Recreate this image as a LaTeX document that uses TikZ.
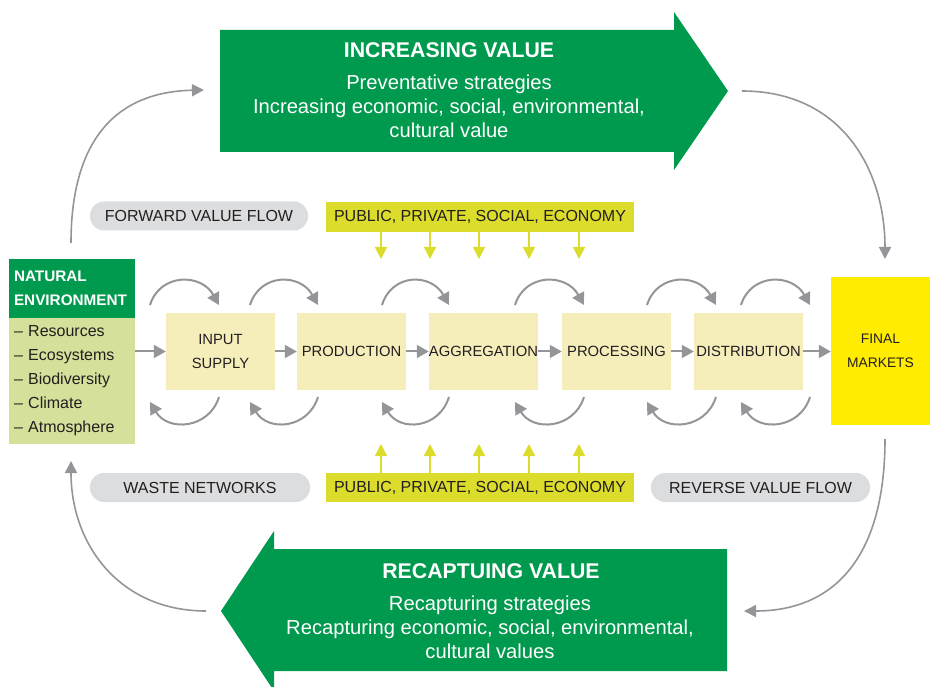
\documentclass[tikz,border=0pt]{standalone}
\usepackage{fontspec}
\setmainfont{Liberation Sans}
\usetikzlibrary{arrows.meta}

\definecolor{leaf}{HTML}{009A4E}
\definecolor{sage}{HTML}{D5E09A}
\definecolor{cream}{HTML}{F5EEBB}
\definecolor{sun}{HTML}{FFEC00}
\definecolor{lime}{HTML}{DCDC2C}
\definecolor{pillgray}{HTML}{DCDDDE}
\definecolor{flowgray}{HTML}{939598}
\definecolor{ink}{HTML}{231F20}

\newcommand{\fs}[2]{\fontsize{#1}{#2}\selectfont}

\begin{document}
\begin{tikzpicture}[x=1pt,y=-1pt,
  chainbox/.style={fill=cream, minimum width=109pt, minimum height=77pt,
    inner sep=0pt, align=center, text=ink, font=\fs{14.8}{24}},
  pill/.style={fill=pillgray, rounded corners=14pt, minimum width=218pt,
    minimum height=29pt, inner sep=0pt, text=ink, font=\fs{16}{24}},
  label/.style={fill=lime, minimum width=308pt, minimum height=30pt,
    inner sep=0pt, text=ink, font=\fs{16}{24}},
  bigarrow/.style={fill=leaf},
  bigtitle/.style={text=white, font=\bfseries\fs{21.3}{24}, inner sep=0pt},
  bigbody/.style={text=white, font=\fs{20.2}{24}, align=center, inner sep=0pt},
  link/.style={draw=flowgray, line width=2pt,
    -{Triangle[length=12pt,width=13pt]}},
  loop/.style={draw=flowgray, line width=1.6pt,
    -{Triangle[length=12pt,width=12pt]}},
  push/.style={draw=lime, line width=1.6pt,
    -{Triangle[length=12pt,width=12pt]}},
]
\useasboundingbox (0,0) rectangle (930,687);

% ---- big value arrows ----
\fill[bigarrow] (220,30) -- (674,30) -- (674,12) -- (728,91) -- (674,170)
  -- (674,152) -- (220,152) -- cycle;
\node[bigtitle] (incTitle) at (449,50) {INCREASING VALUE};
\node[bigbody] (incBody) at (449,106)
  {Preventative strategies\\Increasing economic, social, environmental,\\cultural value};

\fill[bigarrow] (727,549) -- (274,549) -- (274,531) -- (221,611) -- (274,691)
  -- (274,671) -- (727,671) -- cycle;
\node[bigtitle] (recTitle) at (491,571) {RECAPTUING VALUE};
\node[bigbody] (recBody) at (490,627)
  {Recapturing strategies\\Recapturing economic, social, environmental,\\cultural values};

% ---- natural environment ----
\node[fill=leaf, minimum width=126pt, minimum height=59pt, inner sep=0pt,
  text width=116pt, align=left, text=white, font=\bfseries\fs{15.3}{24}]
  (natHead) at (72,288.5) {NATURAL\\ENVIRONMENT};
\node[fill=sage, minimum width=126pt, minimum height=126pt, inner sep=0pt,
  text width=116pt, align=left, text=ink, font=\fs{16}{24}]
  (natList) at (72,381)
  {-- Resources\\-- Ecosystems\\-- Biodiversity\\-- Climate\\-- Atmosphere};

% ---- value chain ----
\node[chainbox] (inp)  at (220.5,351.5) {INPUT\\SUPPLY};
\node[chainbox] (prod) at (351.5,351.5) {PRODUCTION};
\node[chainbox] (agg)  at (483.5,351.5) {AGGREGATION};
\node[chainbox] (proc) at (616.5,351.5) {PROCESSING};
\node[chainbox] (dist) at (748.5,351.5) {DISTRIBUTION};
\node[fill=sun, minimum width=99pt, minimum height=148pt, inner sep=0pt,
  align=center, text=ink, font=\fs{13.8}{24}] (mkt) at (880.5,351)
  {FINAL\\MARKETS};

\draw[link] (inp.west -| natList.east) -- (inp.west);
\draw[link] (inp.east) -- (prod.west);
\draw[link] (prod.east) -- (agg.west);
\draw[link] (agg.east) -- (proc.west);
\draw[link] (proc.east) -- (dist.west);
\draw[link] (dist.east) -- (dist.east -| mkt.west);

% feedback loops above and below the chain
\foreach \a/\b [count=\i] in {150/219, 250/318, 382/449, 515/584, 647/716, 741/810} {
  \coordinate (ts\i) at (\a,305);
  \coordinate (te\i) at (\b,305);
  \coordinate (bs\i) at (\b,397);
  \coordinate (be\i) at (\a,402);
  \draw[link] (ts\i) .. controls +(10,-32) and +(-18,-32) .. (te\i);
  \draw[link] (bs\i) .. controls +(-10,32) and +(18,30) .. (be\i);
}

% ---- labels ----
\node[pill] (fwd)   at (199,216)   {FORWARD VALUE FLOW};
\node[pill, minimum width=220pt] (waste) at (200,487.5) {WASTE NETWORKS};
\node[pill, minimum width=219pt] (rev)   at (760.5,487.5) {REVERSE VALUE FLOW};
\node[label] (pubTop) at (480,217) {PUBLIC, PRIVATE, SOCIAL, ECONOMY};
\node[label, minimum height=29pt] (pubBot) at (480,487.5) {PUBLIC, PRIVATE, SOCIAL, ECONOMY};

\foreach \x [count=\i] in {381,430,479,529,579} {
  \coordinate (ya\i) at (\x,259);
  \coordinate (yb\i) at (\x,444);
  \draw[push] (ya\i |- pubTop.south) -- (ya\i);
  \draw[push] (yb\i |- pubBot.north) -- (yb\i);
}

% ---- outer cycle ----
\coordinate (incIn)  at (204,90);
\coordinate (incOut) at (742,91);
\coordinate (recIn)  at (744,611);
\coordinate (recOut) at (206,611);
\draw[loop] (natHead.north) ++(-1,-16) .. controls (71,150) and (108,92) .. (incIn);
\draw[loop] (incOut) .. controls (842,91) and (885,170) .. (885,259);
\draw[loop] (885,439) .. controls (885,560) and (832,611) .. (recIn);
\draw[loop] (recOut) .. controls (120,611) and (71,545) .. (71,461);
\end{tikzpicture}
\end{document}
